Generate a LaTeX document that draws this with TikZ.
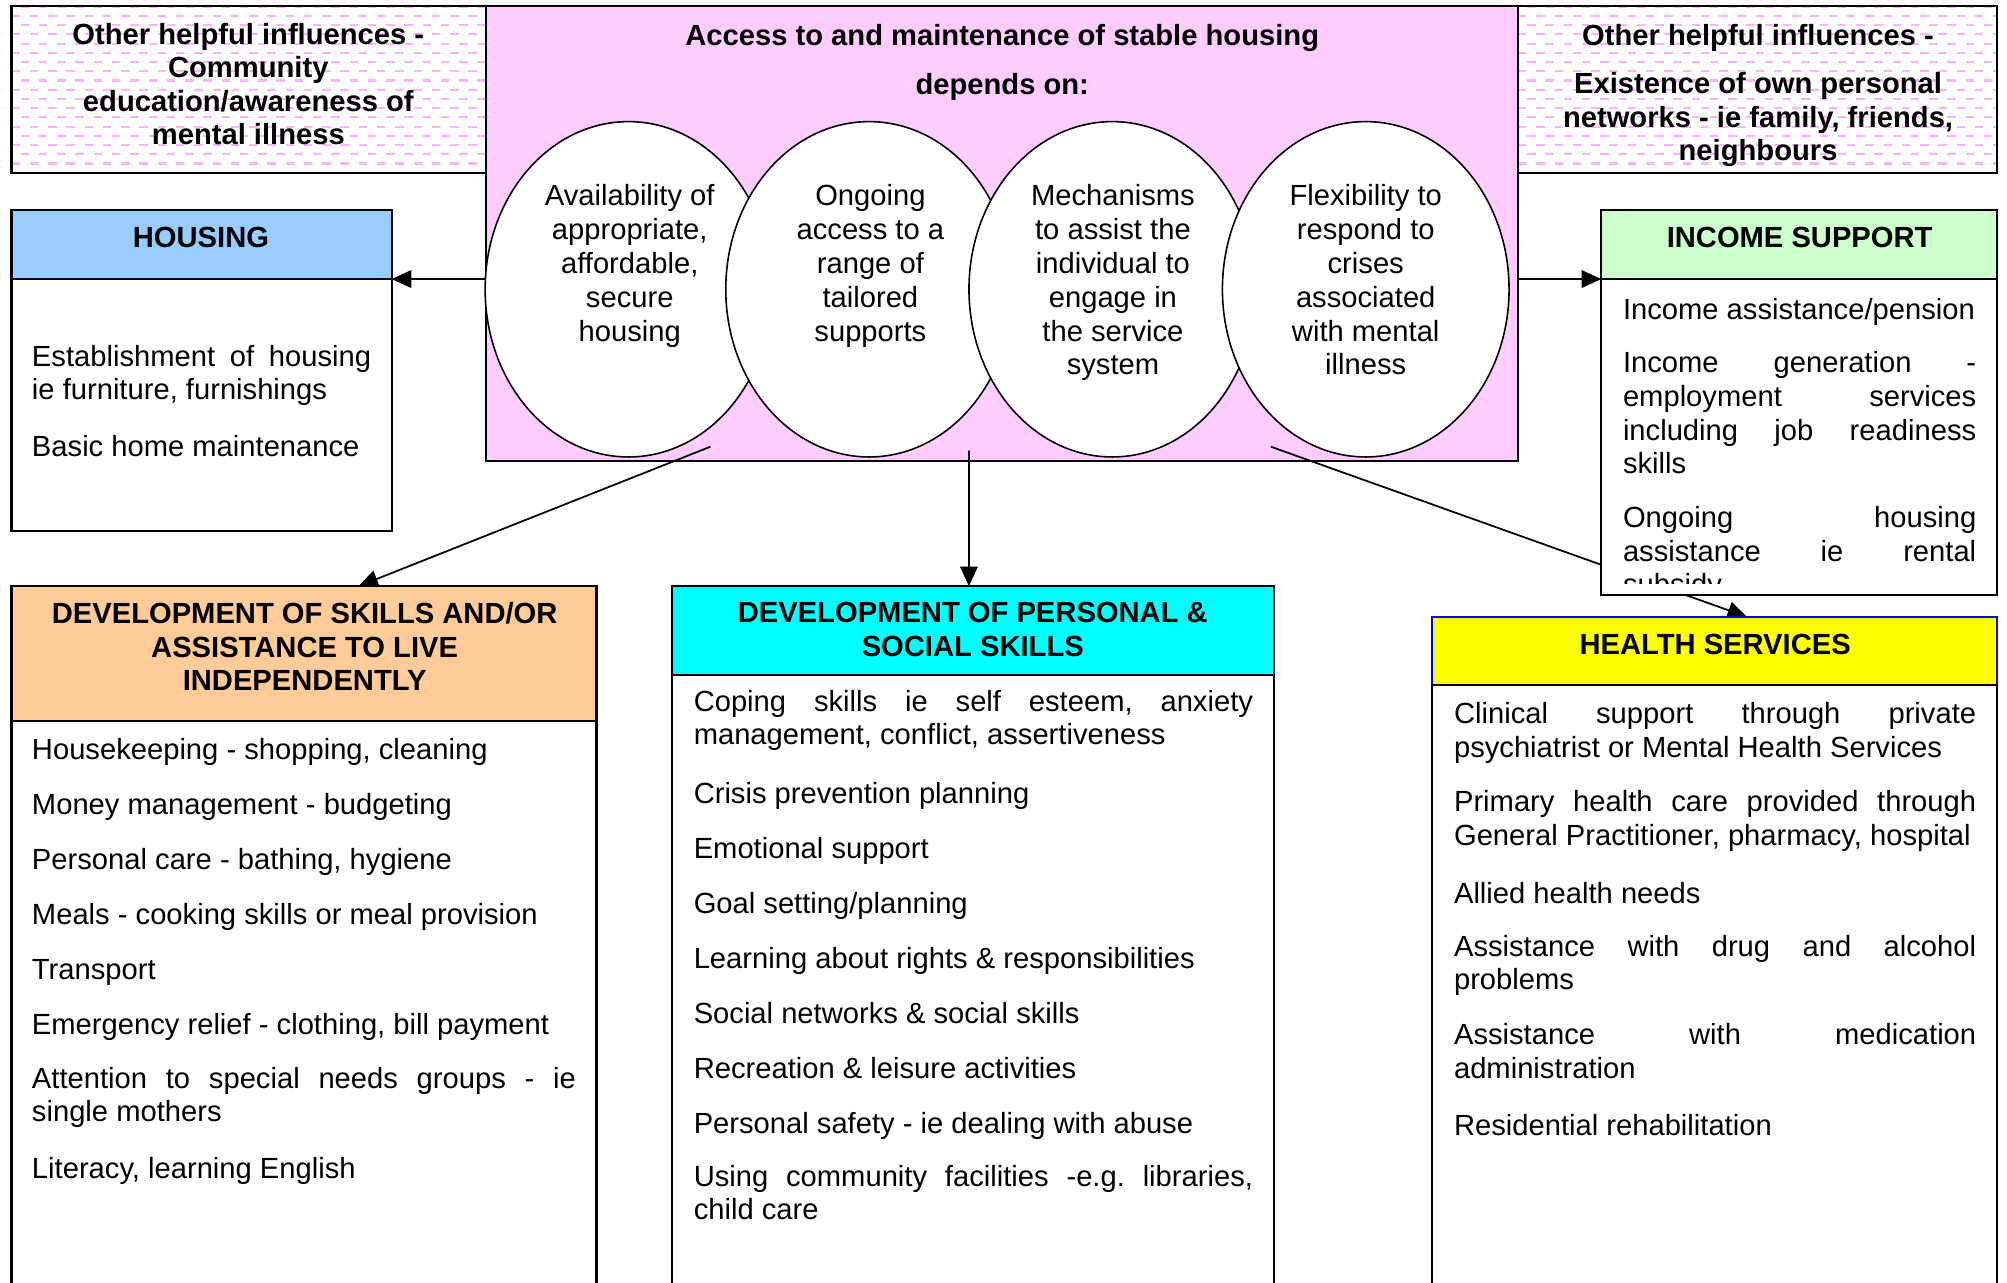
\documentclass[tikz,border=0pt]{standalone}
\usepackage{fontspec}
\setmainfont{Liberation Sans}
\usetikzlibrary{arrows.meta,shapes.geometric,fit}
\definecolor{pinkbg}{HTML}{FFCCFF}
\definecolor{hblue}{HTML}{99CCFF}
\definecolor{igreen}{HTML}{CCFFCC}
\definecolor{speach}{HTML}{FFCC99}
\definecolor{pcyan}{HTML}{00FFFF}
\definecolor{hyellow}{HTML}{FFFF00}
\definecolor{dashpink}{HTML}{FFB0FF}
\newcommand\jst[2]{\makebox[#1][s]{#2}}
\frenchspacing
\begin{document}
\begin{tikzpicture}[x=0.0128cm, y=-0.0128cm,
  frame/.style={rectangle, inner sep=0pt, outer sep=0pt},
  boxline/.style={draw=black, line width=0.6pt},
  ell/.style={ellipse, draw=black, fill=white, line width=0.45pt, inner sep=0pt,
    minimum width=2.867cm, minimum height=3.354cm},
  arr/.style={-{Triangle[length=5.6pt,width=5pt]}, line width=0.5pt},
  dashrow/.style={dashpink, line width=0.6pt, dash pattern=on 2.4pt off 2.8pt},
  txtbase/.style={inner sep=0pt, outer sep=0pt, execute at begin node=\strut},
  body/.style={txtbase, font=\fontsize{8.3}{9.6}\selectfont\frenchspacing,
    align=left, anchor=north west, yshift=6.72pt},
  head/.style={txtbase, font=\fontsize{8.3}{9.5}\selectfont\bfseries, align=center, anchor=north, yshift=6.65pt},
  ctext/.style={txtbase, font=\fontsize{8.3}{9.65}\selectfont, align=center, anchor=north, yshift=6.75pt}]
\useasboundingbox (0,0) rectangle (1568,1002.3);
\clip (0,0) rectangle (1568,1002.3);

% geometry
\node[frame, fit={(9,5)(380,135)}] (infl1) {};
\node[frame, fit={(380,5)(1186,360)}] (access) {};
\node[frame, fit={(1186,5)(1560,135)}] (infl2) {};
\node[frame, fit={(9,164)(306,415)}] (housing) {};
\node[frame, fit={(9,164)(306,218)}] (housingH) {};
\node[frame, fit={(1251,164)(1560,465)}] (income) {};
\node[frame, fit={(1251,164)(1560,218)}] (incomeH) {};
\node[frame, fit={(9,458)(466,1010)}] (skills) {};
\node[frame, fit={(9,458)(466,563)}] (skillsH) {};
\node[frame, fit={(525,458)(995,1010)}] (personal) {};
\node[frame, fit={(525,458)(995,527)}] (personalH) {};
\node[frame, fit={(1119,482)(1560,1010)}] (health) {};
\node[frame, fit={(1119,482)(1560,535)}] (healthH) {};

% top corner boxes with dashed pattern
\begin{scope}
  \clip (infl1.north west) rectangle (infl1.south east);
  \foreach \r in {0,...,9} {
    \draw[dashrow, dash phase=2.6pt] (9,{5.3+14.4*\r}) -- (380,{5.3+14.4*\r});
    \draw[dashrow] (9,{12.5+14.4*\r}) -- (380,{12.5+14.4*\r});
  }
\end{scope}
\begin{scope}
  \clip (infl2.north west) rectangle (infl2.south east);
  \foreach \r in {0,...,9} {
    \draw[dashrow, dash phase=2.6pt] (1186,{5.3+14.4*\r}) -- (1560,{5.3+14.4*\r});
    \draw[dashrow] (1186,{12.5+14.4*\r}) -- (1560,{12.5+14.4*\r});
  }
\end{scope}
\draw[boxline] (infl1.north west) rectangle (infl1.south east);
\draw[boxline] (infl2.north west) rectangle (infl2.south east);
\node[head] (t1) at (194,36.5) {Other helpful influences -\\Community\\education/awareness of\\mental illness};
\node[head] (t2a) at (1373.5,35.5) {Other helpful influences -};
\node[head] (t2b) at (1373.5,75) {Existence of own personal\\networks - ie family, friends,\\neighbours};

% central pink box
\fill[pinkbg] (access.north west) rectangle (access.south east);
\draw[boxline] (access.north west) rectangle (access.south east);
\node[head] (acc1) at (783,35.5) {Access to and maintenance of stable housing};
\node[head] (acc2) at (783,74) {depends on:};
\node[ell] (e1) at (491,226) {};
\node[ell] (e2) at (679,226) {};
\node[ell] (e3) at (869,226) {};
\node[ell] (e4) at (1067,226) {};
\node[ctext] (e1t) at (492,162.5) {Availability of\\appropriate,\\affordable,\\secure\\housing};
\node[ctext] (e2t) at (680,162.5) {Ongoing\\access to a\\range of\\tailored\\supports};
\node[ctext] (e3t) at (869.5,162.5) {Mechanisms\\to assist the\\individual to\\engage in\\the service\\system};
\node[ctext] (e4t) at (1067,162.5) {Flexibility to\\respond to\\crises\\associated\\with mental\\illness};

% connectors
\draw[arr] (access.west |- housingH.south) -- (housingH.south east);
\draw[arr] (access.east |- incomeH.south) -- (incomeH.south west);
\draw[arr] ([xshift=2.24cm,yshift=0.141cm]access.south west) -- ([xshift=3.469cm]skillsH.north west);
\draw[arr] ([xshift=4.826cm,yshift=0.102cm]access.south west) -- ([xshift=2.97cm]personalH.north west);
\draw[arr] ([xshift=7.846cm,yshift=0.141cm]access.south west) -- ([xshift=3.149cm]healthH.north west);

% HOUSING
\fill[white] (housing.north west) rectangle (housing.south east);
\fill[hblue] (housingH.north west) rectangle (housingH.south east);
\draw[boxline] (housing.north west) rectangle (housing.south east);
\draw[boxline] (housingH.south west) -- (housingH.south east);
\node[head] (hh) at (157,193) {HOUSING};
\node[body] (hb1) at (25,288) {\jst{3.392cm}{Establishment of housing}\\ie furniture, furnishings};
\node[body] (hb2) at (25,356.5) {Basic home maintenance};

% INCOME SUPPORT
\fill[white] (income.north west) rectangle (income.south east);
\fill[igreen] (incomeH.north west) rectangle (incomeH.south east);
\draw[boxline] (income.north west) rectangle (income.south east);
\draw[boxline] (incomeH.south west) -- (incomeH.south east);
\node[head] (ih) at (1406,193) {INCOME SUPPORT};
\begin{scope}
  \clip (income.north west) rectangle (1560,455.5);
  \node[body] (ib1) at (1268,249.5) {Income assistance/pension};
  \node[body] (ib2) at (1268,293) {\jst{3.533cm}{Income generation -}\\\jst{3.533cm}{employment services}\\\jst{3.533cm}{including job readiness}\\skills};
  \node[body] (ib3) at (1268,414) {\jst{3.533cm}{Ongoing housing}\\\jst{3.533cm}{assistance ie rental}\\subsidy};
\end{scope}

% DEVELOPMENT OF SKILLS
\fill[white] (skills.north west) rectangle (skills.south east);
\fill[speach] (skillsH.north west) rectangle (skillsH.south east);
\draw[boxline] (skills.north west) rectangle (skills.south east);
\draw[boxline] (skillsH.south west) -- (skillsH.south east);
\node[head] (sh) at (238,489) {DEVELOPMENT OF SKILLS AND/OR\\ASSISTANCE TO LIVE\\INDEPENDENTLY};
\node[body] (sb1) at (25,593) {Housekeeping - shopping, cleaning};
\node[body] (sb2) at (25,636) {Money management - budgeting};
\node[body] (sb3) at (25,679) {Personal care - bathing, hygiene};
\node[body] (sb4) at (25,722) {Meals - cooking skills or meal provision};
\node[body] (sb5) at (25,765) {Transport};
\node[body] (sb6) at (25,808) {Emergency relief - clothing, bill payment};
\node[body] (sb7) at (25,852) {\jst{5.44cm}{Attention to special needs groups - ie}\\single mothers};
\node[body] (sb8) at (25,921) {Literacy, learning English};

% DEVELOPMENT OF PERSONAL & SOCIAL SKILLS
\fill[white] (personal.north west) rectangle (personal.south east);
\fill[pcyan] (personalH.north west) rectangle (personalH.south east);
\draw[boxline] (personal.north west) rectangle (personal.south east);
\draw[boxline] (personalH.south west) -- (personalH.south east);
\node[head] (ph) at (760,489) {DEVELOPMENT OF PERSONAL \&\\SOCIAL SKILLS};
\node[body] (pb1) at (542,557.5) {\jst{5.594cm}{Coping skills ie self esteem, anxiety}\\management, conflict, assertiveness};
\node[body] (pb2) at (542,627.5) {Crisis prevention planning};
\node[body] (pb3) at (542,670.5) {Emotional support};
\node[body] (pb4) at (542,713.5) {Goal setting/planning};
\node[body] (pb5) at (542,756.5) {Learning about rights \& responsibilities};
\node[body] (pb6) at (542,799.5) {Social networks \& social skills};
\node[body] (pb7) at (542,842.5) {Recreation \& leisure activities};
\node[body] (pb8) at (542,885.5) {Personal safety - ie dealing with abuse};
\node[body] (pb9) at (542,928.5) {\jst{5.594cm}{Using community facilities -e.g. libraries,}\\child care};

% HEALTH SERVICES
\fill[white] (health.north west) rectangle (health.south east);
\fill[hyellow] (healthH.north west) rectangle (healthH.south east);
\draw[boxline] (healthH.south west) -- (health.south west);
\draw[boxline] (healthH.south east) -- (health.south east);
\draw[blue, line width=0.6pt] (healthH.south west) -- (healthH.north west) -- (healthH.north east) -- (healthH.south east);
\draw[boxline] (healthH.south west) -- (healthH.south east);
\node[head] (hsh) at (1340,511) {HEALTH SERVICES};
\node[body] (hs1) at (1136,567) {\jst{5.222cm}{Clinical support through private}\\psychiatrist or Mental Health Services};
\node[body] (hs2) at (1136,636) {\jst{5.222cm}{Primary health care provided through}\\General Practitioner, pharmacy, hospital};
\node[body] (hs3) at (1136,706) {Allied health needs};
\node[body] (hs4) at (1136,749) {\jst{5.222cm}{Assistance with drug and alcohol}\\problems};
\node[body] (hs5) at (1136,818) {\jst{5.222cm}{Assistance with medication}\\administration};
\node[body] (hs6) at (1136,887) {Residential rehabilitation};
\end{tikzpicture}
\end{document}
